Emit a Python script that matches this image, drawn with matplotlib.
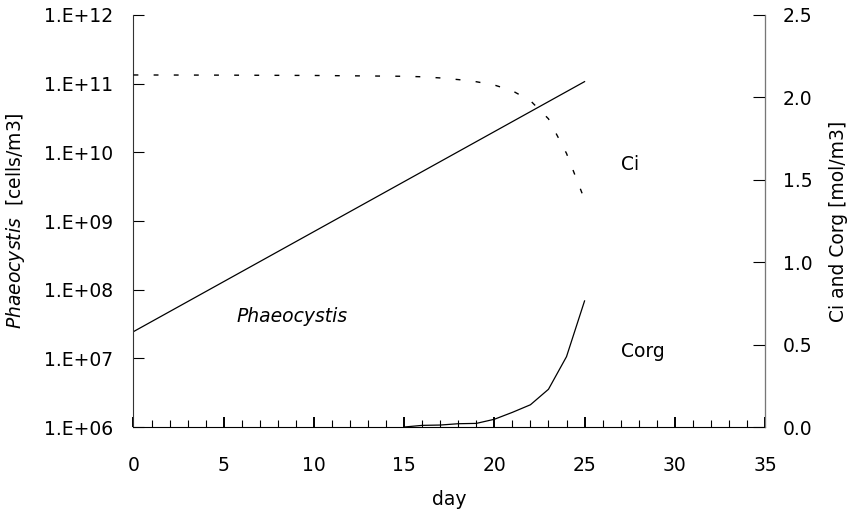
import matplotlib
matplotlib.use("Agg")
import matplotlib.pyplot as plt
import numpy as np
from matplotlib.ticker import FixedLocator, FuncFormatter, MultipleLocator, NullLocator

plt.rcParams['font.family'] = ['DejaVu Sans']
plt.rcParams['mathtext.fontset'] = 'dejavusans'

# Phaeocystis abundance (cells/m3) - straight line on log axis
phaeo_days = [0, 25]
phaeo_cells = [2.45e7, 1.07e11]

# Ci (mol/m3), dotted
ci_days = [0, 5, 10, 15, 16, 17, 18, 19, 20, 21, 22, 23, 24, 25]
ci_vals = [2.136, 2.135, 2.133, 2.128, 2.125, 2.118, 2.108, 2.095, 2.075, 2.04, 1.98, 1.87, 1.66, 1.38]

# Corg (mol/m3), solid
corg_days = [15, 16, 17, 18, 19, 20, 21, 22, 23, 24, 25]
corg_vals = [0.0, 0.01, 0.012, 0.02, 0.022, 0.047, 0.089, 0.135, 0.229, 0.427, 0.765]

left_ticks = [1e6, 1e7, 1e8, 1e9, 1e10, 1e11, 1e12]
right_ticks = [0.0, 0.5, 1.0, 1.5, 2.0, 2.5]
x_ticks = [0, 5, 10, 15, 20, 25, 30, 35]

fig = plt.figure(figsize=(8.53, 5.13), dpi=100)
ax = fig.add_axes([0.1565, 0.1676, 0.8968 - 0.1565, 0.9708 - 0.1676])
ax2 = ax.twinx()

fs = 13.5

ax.plot(phaeo_days, phaeo_cells, color='black', lw=0.9)
ax.set_yscale('log')
ax.set_ylim(1e6, 1e12)
ax.set_xlim(0, 35)
ax.yaxis.set_major_locator(FixedLocator(left_ticks))
ax.yaxis.set_minor_locator(NullLocator())
ax.yaxis.set_major_formatter(FuncFormatter(lambda v, p: "1.E+%02d" % int(round(np.log10(v)))))
ax.xaxis.set_major_locator(FixedLocator(x_ticks))
ax.xaxis.set_minor_locator(MultipleLocator(1))

ax2.plot(ci_days, ci_vals, color='black', lw=1.0, linestyle=(0, (3.5, 11)))
ax2.plot(corg_days, corg_vals, color='black', lw=0.9)
ax2.set_ylim(0, 2.5)
ax2.yaxis.set_major_locator(FixedLocator(right_ticks))
ax2.yaxis.set_major_formatter(FuncFormatter(lambda v, p: "%.1f" % v))

for a in (ax, ax2):
    a.spines['top'].set_visible(False)

ax.spines['left'].set_color('#333333')
ax.spines['bottom'].set_color('black')
ax2.spines['right'].set_color('#777777')
ax2.spines['left'].set_visible(False)
ax2.spines['bottom'].set_visible(False)

ax.tick_params(axis='y', direction='in', length=8, width=0.8, pad=15, labelsize=fs)
ax.tick_params(axis='x', which='major', direction='in', length=7, width=1.4, pad=21, labelsize=fs)
ax.tick_params(axis='x', which='minor', direction='in', length=5, width=0.8)
ax2.tick_params(axis='y', direction='in', length=9, width=0.8, pad=13, labelsize=fs)

ax.set_xlabel('day', fontsize=fs, labelpad=11)
ax.set_ylabel(r'$\it{Phaeocystis}$  [cells/m3]', fontsize=fs, labelpad=12)
ax2.set_ylabel('Ci and Corg [mol/m3]', fontsize=fs, labelpad=12)

ax.text(8.8, 4.13e7, 'Phaeocystis', style='italic', fontsize=fs, ha='center', va='center')
ax2.text(27.0, 1.59, 'Ci', fontsize=fs, ha='left', va='center')
ax2.text(27.0, 0.46, 'Corg', fontsize=fs, ha='left', va='center')

fig.savefig('out.png', dpi=100)
